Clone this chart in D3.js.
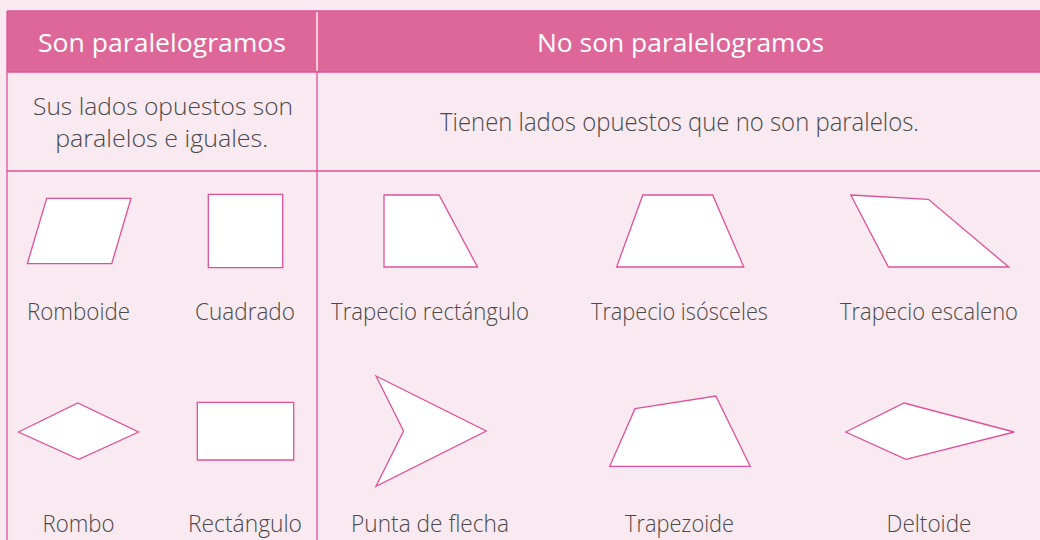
<!DOCTYPE html>
<html><head><meta charset="utf-8">
<script src="https://cdn.jsdelivr.net/npm/d3@7"></script>
<style>html,body{margin:0;padding:0;background:#f9e9f0;}svg{display:block;font-family:"Open Sans",sans-serif;}</style>
</head><body>
<svg id="c" width="1040" height="540"></svg>
<script>
// Column headers
const groups = ["Son paralelogramos", "No son paralelogramos"];
const descLeft = ["Sus lados opuestos son", "paralelos e iguales."];
const descRight = ["Tienen lados opuestos que no son paralelos."];
// Shape names by row / group
const leftTop = ["Romboide", "Cuadrado"];
const leftBottom = ["Rombo", "Rectángulo"];
const rightTop = ["Trapecio rectángulo", "Trapecio isósceles", "Trapecio escaleno"];
const rightBottom = ["Punta de flecha", "Trapezoide", "Deltoide"];
// Vertices of each figure, relative to the figure centre (shape units)
const vRomboide = [[-31.8,-32.7],[52.5,-32.7],[33.2,32.7],[-51.2,32.7]];
const vCuadrado = [[-36.7,-36.7],[37.7,-36.7],[37.7,36.7],[-36.7,36.7]];
const vRombo = [[-60,1],[-0.7,-28],[60,1],[0.3,28.3]];
const vRectangulo = [[-47.7,-28.7],[48.7,-28.7],[48.7,29],[-47.7,29]];
const vTrapRect = [[-46,-36],[9,-36],[47.5,36],[-46,36]];
const vTrapIso = [[-36.7,-36],[33.1,-36],[64.3,36],[-62.9,36]];
const vTrapEsc = [[-78.2,-36],[-0.7,-31.7],[79.7,36],[-40.6,36]];
const vPunta = [[-54,-55],[56.2,0],[-54,55.3],[-26.4,0]];
const vTrapezoide = [[-44.5,-22.3],[36.3,-35],[70.7,35.3],[-69.8,35.3]];
const vDeltoide = [[-83.3,1],[-25,-28],[85.2,1],[-23.1,28.3]];

(function(){
const PINK = "#e0509a", HEAD = "#de6799", TXT = "#4a4a4a";
const svg = d3.select("#c");

// Layout
const W = 1040, x0 = 7, divX = 317, y0 = 11, headB = 72, descB = 171;
const xLeft = d3.scalePoint().domain(leftTop.map((d,i)=>i)).range([78.5, 245]);
const xRight = d3.scalePoint().domain(rightTop.map((d,i)=>i)).range([430, 929]);
const rowY = d3.scalePoint().domain(["top","bottom"]).range([231, 431]);
const labelY = d3.scalePoint().domain(["top","bottom"]).range([320, 531.5]);
const u = d3.scaleLinear().domain([0,1]).range([0,1]);

// Header
svg.append("rect").attr("x", x0).attr("y", y0).attr("width", W-x0+5).attr("height", headB-y0).attr("fill", HEAD);
// Grid lines
const g = svg.append("g").attr("stroke", PINK).attr("stroke-width", 1.3).attr("fill","none");
g.append("line").attr("x1",x0).attr("x2",W+5).attr("y1",y0).attr("y2",y0);
g.append("line").attr("x1",x0).attr("x2",W+5).attr("y1",headB).attr("y2",headB);
g.append("line").attr("x1",x0).attr("x2",W+5).attr("y1",descB).attr("y2",descB);
g.append("line").attr("x1",x0).attr("x2",x0).attr("y1",y0).attr("y2",545);
g.append("line").attr("x1",divX).attr("x2",divX).attr("y1",headB).attr("y2",545);
svg.append("line").attr("x1",divX).attr("x2",divX).attr("y1",y0+1).attr("y2",headB-1).attr("stroke","#fff").attr("stroke-width",1.3);

function txt(s, x, y, size, fill, len, weight){
  const t = svg.append("text").attr("x",x).attr("y",y).attr("text-anchor","middle")
    .attr("font-size",size).attr("font-weight",weight||300).attr("fill",fill).text(s);
  if(len){ t.attr("textLength",len).attr("lengthAdjust","spacingAndGlyphs"); }
  return t;
}
txt(groups[0], 162, 52, 26, "#fff", 248, 400);
txt(groups[1], 680.5, 52, 26, "#fff", 287, 400);
txt(descLeft[0], 163, 115, 24, TXT, 260);
txt(descLeft[1], 161.7, 147, 24, TXT, 213);
txt(descRight[0], 679.5, 131, 25, TXT, 479);

const line = d3.line().x(d=>u(d[0])).y(d=>u(d[1])).curve(d3.curveLinearClosed);
function drawShapes(names, verts, xs, row, widths){
  names.forEach((n,i)=>{
    const cx = xs(i), cy = rowY(row);
    svg.append("path").attr("transform",`translate(${cx},${cy})`).attr("d", line(verts[i]))
      .attr("fill","#fff").attr("stroke",PINK).attr("stroke-width",1.3).attr("stroke-linejoin","miter");
    txt(n, cx, labelY(row), 23, TXT, widths[i]);
  });
}
drawShapes(leftTop, [vRomboide, vCuadrado], xLeft, "top", [103, 100]);
drawShapes(leftBottom, [vRombo, vRectangulo], xLeft, "bottom", [72, 114]);
drawShapes(rightTop, [vTrapRect, vTrapIso, vTrapEsc], xRight, "top", [198, 177, 178]);
drawShapes(rightBottom, [vPunta, vTrapezoide, vDeltoide], xRight, "bottom", [158, 109, 85]);
})();
</script>
</body></html>
